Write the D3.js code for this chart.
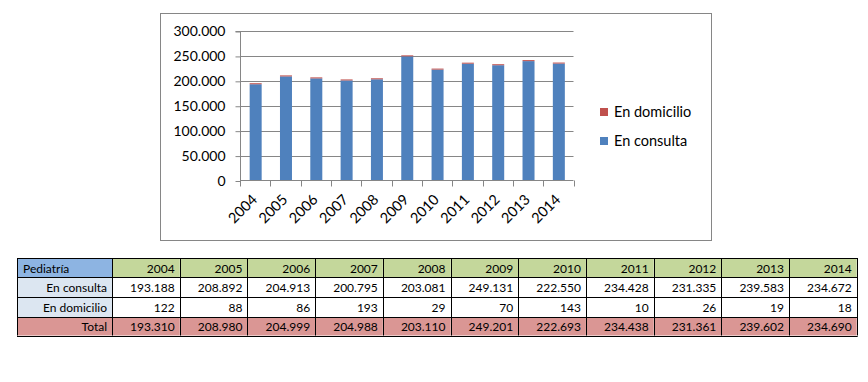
<!DOCTYPE html>
<html>
<head>
<meta charset="utf-8">
<script src="https://cdn.jsdelivr.net/npm/d3@7"></script>
<style>
  body { margin: 0; background: #fff; }
  svg text { font-family: Lato, "Open Sans", sans-serif; }
</style>
</head>
<body>
<script>
// data
var years = ["2004","2005","2006","2007","2008","2009","2010","2011","2012","2013","2014"];
var enConsulta = [193188, 208892, 204913, 200795, 203081, 249131, 222550, 234428, 231335, 239583, 234672];
var enDomicilio = [122, 88, 86, 193, 29, 70, 143, 10, 26, 19, 18];
var totals = [193310, 208980, 204999, 204988, 203110, 249201, 222693, 234438, 231361, 239602, 234690];
var yTicks = [0, 50000, 100000, 150000, 200000, 250000, 300000];
var seriesNames = ["En consulta", "En domicilio"];
var tableTitle = "Pediatría";
var totalLabel = "Total";

var colors = {"En consulta": "#4F81BD", "En domicilio": "#C0504D"};

var es = d3.formatLocale({decimal: ",", thousands: ".", grouping: [3], currency: ["", "€"]});
var fmt = es.format(",d");

var svg = d3.select("body").append("svg")
    .attr("width", 868)
    .attr("height", 382);

// chart frame
svg.append("rect")
    .attr("x", 160.5).attr("y", 13.5)
    .attr("width", 551).attr("height", 227)
    .attr("fill", "#fff")
    .attr("stroke", "#868686");

var plot = {left: 240, right: 573.5, top: 31, bottom: 180.5};

var x = d3.scaleBand().domain(years).range([plot.left, plot.right]).paddingInner(0).paddingOuter(0);
var y = d3.scaleLinear().domain([0, 300000]).range([plot.bottom, plot.top]);

// gridlines
svg.append("g").selectAll("line")
    .data(yTicks.slice(1))
  .enter().append("line")
    .attr("x1", plot.left).attr("x2", plot.right)
    .attr("y1", function(d) { return Math.round(y(d)) + 0.5; })
    .attr("y2", function(d) { return Math.round(y(d)) + 0.5; })
    .attr("stroke", "#868686");

// stacked bars (tiny segments kept visible at 1px, like the source)
var rows = years.map(function(yr, i) {
  return {year: yr, "En consulta": enConsulta[i], "En domicilio": enDomicilio[i]};
});
var stack = d3.stack().keys(seriesNames)(rows);
var barW = 12;

svg.append("g").selectAll("g")
    .data(stack)
  .enter().append("g")
    .attr("fill", function(s) { return colors[s.key]; })
  .selectAll("rect")
    .data(function(s) { return s; })
  .enter().append("rect")
    .attr("x", function(d) { return x(d.data.year) + x.bandwidth() / 2 - barW / 2 + 0.5; })
    .attr("width", barW)
    .attr("y", function(d) {
      var h = Math.max(1, y(d[0]) - y(d[1]));
      return y(d[0]) - h;
    })
    .attr("height", function(d) { return Math.max(1, y(d[0]) - y(d[1])); });

// y axis
var yAxis = d3.axisLeft(y).tickValues(yTicks).tickSize(5).tickPadding(10).tickFormat(fmt);
var gy = svg.append("g")
    .attr("transform", "translate(" + (plot.left + 0.5) + ",0.5)")
    .call(yAxis);
gy.select(".domain").attr("stroke", "#868686").attr("d", "M-5," + plot.top + "H0V" + plot.bottom);
gy.selectAll(".tick line").attr("stroke", "#868686");
gy.selectAll(".tick text").attr("font-size", 14).attr("fill", "#000");

// x axis
var xAxis = d3.axisBottom(x).tickSize(0).tickFormat("");
var gx = svg.append("g")
    .attr("transform", "translate(0," + (plot.bottom) + ")")
    .call(xAxis);
gx.select(".domain").attr("stroke", "#868686").attr("d", "M" + plot.left + ",0H" + plot.right);
gx.selectAll(".tick").remove();

// category boundary ticks
var bounds = years.map(function(d) { return x(d); }).concat([plot.right]);
svg.append("g").selectAll("line")
    .data(bounds)
  .enter().append("line")
    .attr("x1", function(d) { return Math.round(d) + 0.5; })
    .attr("x2", function(d) { return Math.round(d) + 0.5; })
    .attr("y1", plot.bottom).attr("y2", plot.bottom + 6)
    .attr("stroke", "#868686");

// rotated year labels
svg.append("g").selectAll("text")
    .data(years)
  .enter().append("text")
    .attr("transform", function(d) {
      return "translate(" + (x(d) + x.bandwidth() / 2 + 3) + "," + (plot.bottom + 20) + ") rotate(-45)";
    })
    .attr("text-anchor", "end")
    .attr("font-size", 14.5)
    .attr("fill", "#000")
    .text(function(d) { return d; });

// legend
var legendItems = seriesNames.slice().reverse();
var legend = svg.append("g").selectAll("g")
    .data(legendItems)
  .enter().append("g")
    .attr("transform", function(d, i) { return "translate(600," + (108 + i * 29) + ")"; });
legend.append("rect")
    .attr("width", 8).attr("height", 8)
    .attr("fill", function(d) { return colors[d]; });
legend.append("text")
    .attr("x", 14).attr("y", 4)
    .attr("dy", "0.35em")
    .attr("font-size", 14.5)
    .attr("fill", "#000")
    .text(function(d) { return d; });

// table
var tbl = {left: 17, firstW: 95, colW: 67.7, top: 258, rowH: [19, 20, 20, 18.5]};
var tableRows = [
  {label: tableTitle, values: years, head: true},
  {label: seriesNames[0], values: enConsulta.map(fmt)},
  {label: seriesNames[1], values: enDomicilio.map(fmt)},
  {label: totalLabel, values: totals.map(fmt), total: true}
];

var xCol = d3.scaleLinear().domain([0, years.length]).range([tbl.left + tbl.firstW, tbl.left + tbl.firstW + tbl.colW * years.length]);
var rowY = [tbl.top];
tbl.rowH.forEach(function(h, i) { rowY.push(rowY[i] + h); });

var tg = svg.append("g");
tableRows.forEach(function(r, ri) {
  var y0 = rowY[ri], h = tbl.rowH[ri];
  var labelFill = r.head ? "#8DB4E2" : (r.total ? "#DA9694" : "#DCE6F1");
  var cellFill = r.head ? "#C4D79B" : (r.total ? "#DA9694" : "#fff");
  tg.append("rect")
      .attr("x", tbl.left).attr("y", y0)
      .attr("width", tbl.firstW).attr("height", h)
      .attr("fill", labelFill);
  tg.append("text")
      .attr("x", r.head ? tbl.left + 6 : tbl.left + tbl.firstW - 5)
      .attr("y", y0 + h / 2 + 1)
      .attr("dy", "0.35em")
      .attr("text-anchor", r.head ? "start" : "end")
      .attr("font-size", 12)
      .attr("fill", "#000")
      .text(r.label);
  r.values.forEach(function(v, ci) {
    tg.append("rect")
        .attr("x", xCol(ci)).attr("y", y0)
        .attr("width", tbl.colW).attr("height", h)
        .attr("fill", cellFill);
    tg.append("text")
        .attr("x", xCol(ci + 1) - 5)
        .attr("y", y0 + h / 2 + 1)
        .attr("dy", "0.35em")
        .attr("text-anchor", "end")
        .attr("font-size", 12)
        .attr("fill", "#000")
        .text(v);
  });
});

// table borders
var xLines = [tbl.left].concat(d3.range(years.length + 1).map(xCol));
xLines.forEach(function(xx) {
  tg.append("line")
      .attr("x1", Math.round(xx) + 0.5).attr("x2", Math.round(xx) + 0.5)
      .attr("y1", rowY[0]).attr("y2", rowY[rowY.length - 1])
      .attr("stroke", "#000");
});
rowY.forEach(function(yy) {
  tg.append("line")
      .attr("x1", tbl.left).attr("x2", xCol(years.length) + 1)
      .attr("y1", Math.round(yy) + 0.5).attr("y2", Math.round(yy) + 0.5)
      .attr("stroke", "#000");
});
</script>
</body>
</html>
